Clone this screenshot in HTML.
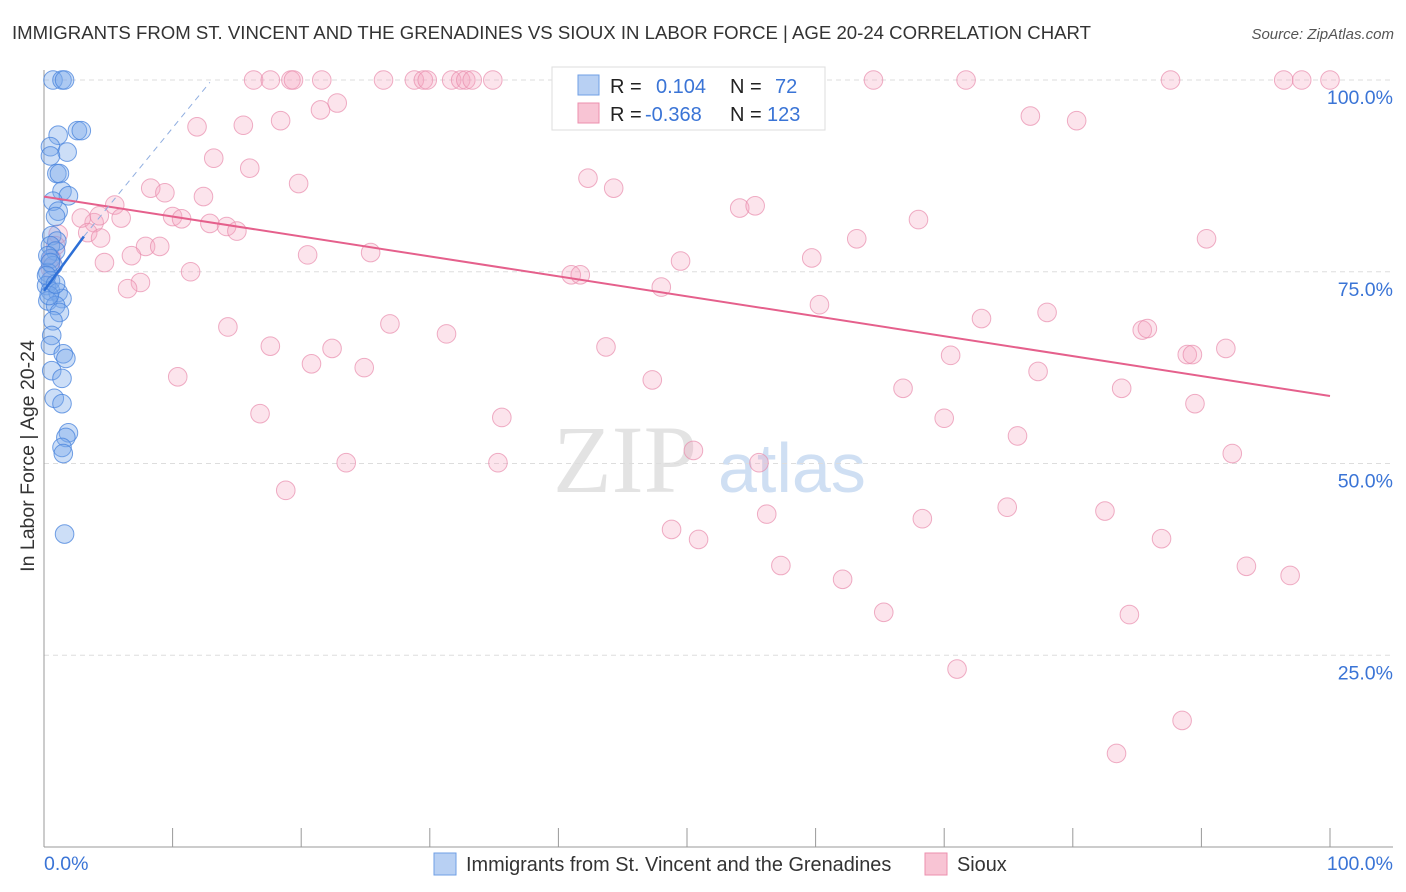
<!DOCTYPE html>
<html><head><meta charset="utf-8"><style>
body{margin:0;background:#fff;font-family:"Liberation Sans",sans-serif}
svg{display:block}
</style></head><body>
<svg id="chart" width="1406" height="892">
<text x="12" y="39" font-size="18.6" fill="#333">IMMIGRANTS FROM ST. VINCENT AND THE GRENADINES VS SIOUX IN LABOR FORCE | AGE 20-24 CORRELATION CHART</text>
<text x="1394" y="39" font-size="15" fill="#555" font-style="italic" text-anchor="end">Source: ZipAtlas.com</text>
<g>
<text x="553" y="492" font-size="96" font-family="Liberation Serif,serif" fill="#e3e3e3">ZIP</text>
<text x="718" y="492" font-size="70" fill="#cfdff3">atlas</text>
</g>
<g id="grid"></g><g id="axes"></g><g id="pts"></g><g id="trend"></g>
<text x="34" y="456" font-size="19.5" fill="#333" transform="rotate(-90 34 456)" text-anchor="middle">In Labor Force | Age 20-24</text>
<g>
<rect x="552" y="67" width="273" height="63" fill="#fff" stroke="#ddd"/>
<rect x="578" y="75" width="21" height="20" fill="#b8d0f3" stroke="#6f9fe6"/>
<rect x="578" y="103" width="21" height="20" fill="#f8c4d4" stroke="#ec8fae"/>
<text x="610" y="93" font-size="20" fill="#222">R = </text><text x="656" y="93" font-size="20" fill="#3a74d6">0.104</text>
<text x="730" y="93" font-size="20" fill="#222">N = </text><text x="775" y="93" font-size="20" fill="#3a74d6">72</text>
<text x="610" y="121" font-size="20" fill="#222">R = </text><text x="645" y="121" font-size="20" fill="#3a74d6">-0.368</text>
<text x="730" y="121" font-size="20" fill="#222">N = </text><text x="767" y="121" font-size="20" fill="#3a74d6">123</text>
</g>
<g>
<rect x="434" y="853" width="22" height="22" fill="#b8d0f3" stroke="#6f9fe6"/>
<text x="466" y="871" font-size="19.9" fill="#333">Immigrants from St. Vincent and the Grenadines</text>
<rect x="925" y="853" width="22" height="22" fill="#f8c4d4" stroke="#ec8fae"/>
<text x="957" y="871" font-size="19.9" fill="#333">Sioux</text>
</g>
</svg>
<script>
const xTicks=[0,10,20,30,40,50,60,70,80,90,100];
const yTicks=[25,50,75,100];
const yTickLabels=["25.0%","50.0%","75.0%","100.0%"];
const blueX=[0.7,1.4,1.6,2.6,2.9,1.1,0.5,1.8,0.5,1.0,1.2,1.4,1.9,0.7,1.1,0.9,0.6,1.0,0.5,0.9,0.5,0.7,0.3,0.5,0.2,0.5,1.1,1.4,0.3,0.9,1.2,0.7,0.6,0.5,1.5,1.7,0.6,1.4,0.8,1.4,1.9,1.7,1.4,1.5,1.6,0.3,0.5,0.2,0.4,0.9];
const blueY=[100,100,100,93.4,93.4,92.8,91.3,90.6,90.1,87.8,87.8,85.5,84.9,84.2,82.9,82.2,79.7,79.0,78.4,77.7,76.7,75.8,74.9,73.8,73.2,72.5,72.3,71.5,71.2,70.6,69.7,68.6,66.7,65.4,64.3,63.7,62.1,61.1,58.5,57.8,54.0,53.4,52.1,51.3,40.8,77.1,76.2,74.5,71.9,73.4];
const pinkX=[16.3,17.6,19.2,19.4,21.6,26.4,28.8,29.5,29.8,31.7,32.4,32.8,33.3,34.9,64.5,71.7,87.6,96.4,97.8,100,22.8,21.5,11.9,15.5,18.4,13.2,16.0,19.8,8.3,9.4,12.4,5.5,6.0,10.0,10.7,12.9,14.2,15.0,3.9,2.9,3.4,4.4,7.9,9.0,6.8,20.5,25.4,4.7,11.4,7.5,6.5,76.7,80.3,42.3,44.3,54.1,55.3,68.0,90.4,63.2,59.7,49.5,41.0,41.7,48.0,60.3,72.9,78.0,85.4,85.8,26.9,31.3,14.3,17.6,22.4,43.7,70.5,88.9,89.3,91.9,20.8,24.9,10.4,47.3,77.3,66.8,83.8,89.5,16.8,35.6,70.0,75.7,50.5,92.4,23.5,35.3,55.6,18.8,48.8,50.9,56.2,68.3,74.9,82.5,86.9,57.3,62.1,93.5,96.9,65.3,84.4,71.0,88.5,83.4,1.1,0.9,0.6,0.5,4.3];
const pinkY=[100,100,100,100,100,100,100,100,100,100,100,100,100,100,100,100,100,100,100,100,97.0,96.1,93.9,94.1,94.7,89.8,88.5,86.5,85.9,85.3,84.8,83.7,82.0,82.2,81.9,81.3,80.9,80.3,81.4,82.0,80.1,79.4,78.3,78.3,77.1,77.2,77.5,76.2,75.0,73.6,72.8,95.3,94.7,87.2,85.9,83.3,83.6,81.8,79.3,79.3,76.8,76.4,74.6,74.6,73.0,70.7,68.9,69.7,67.4,67.6,68.2,66.9,67.8,65.3,65.0,65.2,64.1,64.2,64.2,65.0,63.0,62.5,61.3,60.9,62.0,59.8,59.8,57.8,56.5,56.0,55.9,53.6,51.7,51.3,50.1,50.1,50.1,46.5,41.4,40.1,43.4,42.8,44.3,43.8,40.2,36.7,34.9,36.6,35.4,30.6,30.3,23.2,16.5,12.2,79.9,78.4,76.7,75.4,82.3];
const blueTrend=[[0,72.5],[3.1,79.6]];
const blueDash=[[3.1,79.6],[12.9,99.7]];
const pinkTrend=[[0,84.8],[100,58.8]];
const NS="http://www.w3.org/2000/svg";
const xs=v=>44+v*12.86, ys=v=>847-v*7.67;
function mk(tag,attrs,parent){const e=document.createElementNS(NS,tag);for(const k in attrs)e.setAttribute(k,attrs[k]);document.getElementById(parent).appendChild(e);return e;}
yTicks.forEach((t,i)=>{
 const g=mk('line',{x1:44,x2:1393,y1:ys(t),y2:ys(t),stroke:'#ddd','stroke-dasharray':'5,4'},'grid');
 
 
 const l=mk('text',{x:1393,y:ys(t)+24,'font-size':19.5,fill:'#3a74d6','text-anchor':'end'},'grid');
 l.textContent=yTickLabels[i];
 
 
});
const ax=mk('line',{x1:44,x2:1393,y1:847,y2:847,stroke:'#999'},'axes');


const ay=mk('line',{x1:44,x2:44,y1:70,y2:847,stroke:'#999'},'axes');


xTicks.forEach(t=>{const k=mk('line',{x1:xs(t),x2:xs(t),y1:828,y2:847,stroke:'#999'},'axes');
 
 });
const x0=mk('text',{x:44,y:870,'font-size':19.5,fill:'#3a74d6'},'axes');x0.textContent='0.0%';


const x1=mk('text',{x:1393,y:870,'font-size':19.5,fill:'#3a74d6','text-anchor':'end'},'axes');x1.textContent='100.0%';


pinkX.forEach((v,i)=>{const c=mk('circle',{cx:xs(v),cy:ys(pinkY[i]),r:9.3,fill:'rgba(244,165,192,0.3)',stroke:'rgba(232,140,172,0.7)','stroke-width':1},'pts');
 
 });
blueX.forEach((v,i)=>{const c=mk('circle',{cx:xs(v),cy:ys(blueY[i]),r:9.3,fill:'rgba(120,168,235,0.38)',stroke:'rgba(70,130,220,0.75)','stroke-width':1},'pts');
 
 });
function ln(p,attrs,name){const e=mk('line',Object.assign({x1:xs(p[0][0]),y1:ys(p[0][1]),x2:xs(p[1][0]),y2:ys(p[1][1])},attrs),'trend');
 
 }
ln(pinkTrend,{stroke:'#e5608c','stroke-width':2},'sioux-trend-line');
ln(blueDash,{stroke:'#90aee0','stroke-width':1,'stroke-dasharray':'6,5'},'immigrant-trend-extension');
ln(blueTrend,{stroke:'#2d6fd6','stroke-width':2.5},'immigrant-trend-line');
</script>
</body></html>
